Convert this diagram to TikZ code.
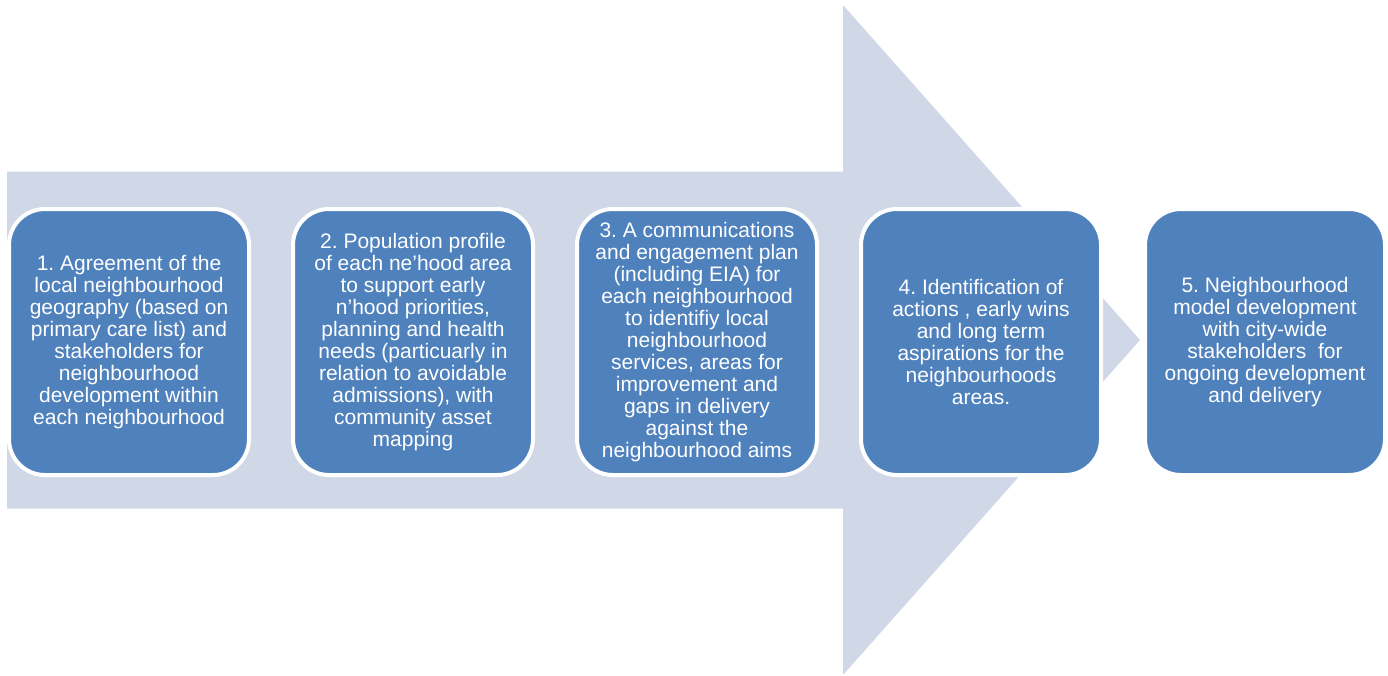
\documentclass[tikz,border=0pt]{standalone}
\usepackage{fontspec}
\setmainfont{Liberation Sans}
\usetikzlibrary{positioning}
\definecolor{shaftFill}{HTML}{D0D8E8}
\definecolor{boxFill}{HTML}{4F81BD}
\frenchspacing

\begin{document}
\begin{tikzpicture}[x=1pt,y=-1pt,%%
  arrowStyle/.style={fill=shaftFill,draw=none},%%
  stepBox/.style={draw=white,line width=4pt,fill=boxFill,rounded corners=36pt,%%
    minimum width=240pt,minimum height=266pt,inner sep=0pt,%%
    text=white,align=center,font=\fontsize{21}{22}\selectfont},%%
  node distance=40pt
]
%%
%%
\pgfmathsetmacro{\xTail}{7}
\pgfmathsetmacro{\xNeck}{843}
\pgfmathsetmacro{\xTip}{1140}
\pgfmathsetmacro{\yMid}{340}
\pgfmathsetmacro{\dShaft}{168.5}
\pgfmathsetmacro{\dHead}{335}
\useasboundingbox (0,0) rectangle (1388,675);
%%
%%
%% The big arrow behind the steps.
\path[arrowStyle] (\xTail,\yMid-\dShaft) -- (\xNeck,\yMid-\dShaft)
  -- (\xNeck,\yMid-\dHead) -- (\xTip,\yMid) -- (\xNeck,\yMid+\dHead)
  -- (\xNeck,\yMid+\dShaft) -- (\xTail,\yMid+\dShaft) -- cycle;
%% The five steps, left to right.
\node[stepBox] (stepOne) at (129,342) {1. Agreement of the\\local neighbourhood\\geography (based on\\primary care list) and\\stakeholders for\\neighbourhood\\development within\\each neighbourhood};
\node[stepBox,right=of stepOne] (stepTwo) {2. Population profile\\of each ne'hood area\\to support early\\n'hood priorities,\\planning and health\\needs (particuarly in\\relation to avoidable\\admissions), with\\community asset\\mapping};
\node[stepBox,right=of stepTwo] (stepThree) {3. A communications\\and engagement plan\\(including EIA) for\\each neighbourhood\\to identifiy local\\neighbourhood\\services, areas for\\improvement and\\gaps in delivery\\against the\\neighbourhood aims};
\node[stepBox,right=of stepThree] (stepFour) {4. Identification of\\actions , early wins\\and long term\\aspirations for the\\neighbourhoods\\areas.};
\node[stepBox,right=of stepFour] (stepFive) {5. Neighbourhood\\model development\\with city-wide\\stakeholders\ \ for\\ongoing development\\and delivery};
\end{tikzpicture}
\end{document}
